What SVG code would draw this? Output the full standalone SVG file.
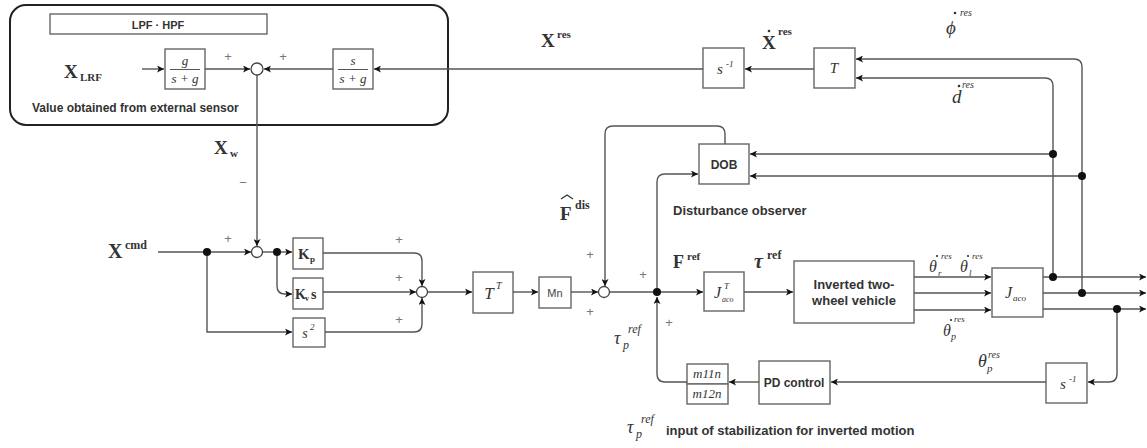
<svg xmlns="http://www.w3.org/2000/svg" width="1147" height="448" viewBox="0 0 1147 448">
<defs>
<marker id="ah" viewBox="0 0 10 10" refX="10" refY="5" markerWidth="7" markerHeight="7" orient="auto" markerUnits="userSpaceOnUse">
<path d="M0,0 L10,5 L0,10 L2.5,5 z" fill="#111"/>
</marker>
<style>
.blk{fill:#fff;stroke:#666;stroke-width:1.4}
.ln{fill:none;stroke:#555;stroke-width:1.4}
.arr{fill:none;stroke:#555;stroke-width:1.4;marker-end:url(#ah)}
.dot{fill:#111}
.sum{fill:#fff;stroke:#444;stroke-width:1.3}
.sans{font-family:"Liberation Sans",Arial,sans-serif;font-weight:bold;fill:#333}
.math{font-family:"Liberation Serif","Times New Roman",serif;font-style:italic;fill:#333}
.bm{font-family:"Liberation Serif","Times New Roman",serif;font-weight:bold;fill:#333}
.pm{font-family:"Liberation Sans",Arial,sans-serif;font-size:13px;fill:#777}
</style>
</defs>
<rect width="1147" height="448" fill="#fff"/>

<g id="sensor-group">
<rect x="10" y="5" width="438" height="120" rx="16" fill="none" stroke="#222" stroke-width="2"/>
<rect x="50" y="14" width="217" height="20" class="blk"/>
<text x="158" y="29" text-anchor="middle" class="sans" font-size="11">LPF · HPF</text>
<text x="32" y="112" class="sans" font-size="12">Value obtained from external sensor</text>
</g>

<g id="lpf">
<rect x="165" y="49" width="40" height="40" class="blk"/>
<text x="185" y="65" text-anchor="middle" class="math" font-size="13">g</text>
<line x1="170" y1="69.5" x2="200" y2="69.5" stroke="#555" stroke-width="1"/>
<text x="185" y="83" text-anchor="middle" class="math" font-size="13">s + g</text>
</g>
<g id="hpf">
<rect x="333" y="49" width="40" height="40" class="blk"/>
<text x="353" y="65" text-anchor="middle" class="math" font-size="13">s</text>
<line x1="338" y1="69.5" x2="368" y2="69.5" stroke="#555" stroke-width="1"/>
<text x="353" y="83" text-anchor="middle" class="math" font-size="13">s + g</text>
</g>
<g id="s-inv-top">
<rect x="703" y="48" width="41" height="40" class="blk"/>
<text x="720" y="74" text-anchor="middle" class="math" font-size="15" font-family="Liberation Sans">s</text>
<text x="726" y="67" class="math" font-size="9" font-family="Liberation Sans">-1</text>
</g>
<g id="T-block">
<rect x="814" y="48" width="41" height="40" class="blk"/>
<text x="834" y="73" text-anchor="middle" class="math" font-size="15">T</text>
</g>
<g id="DOB">
<rect x="699" y="144" width="50" height="40" class="blk"/>
<text x="724" y="169" text-anchor="middle" class="sans" font-size="12">DOB</text>
</g>
<g id="Kp">
<rect x="293" y="238" width="30" height="31" class="blk"/>
<text x="298" y="259" class="bm" font-size="15">K</text>
<text x="310" y="262" class="bm" font-size="9">p</text>
</g>
<g id="Kvs">
<rect x="293" y="278" width="30" height="31" class="blk"/>
<text x="295" y="299" class="bm" font-size="14">K</text>
<text x="305" y="301" class="bm" font-size="8">v</text>
<text x="311" y="299" class="bm" font-size="14">s</text>
</g>
<g id="s2">
<rect x="293" y="318" width="32" height="29" class="blk"/>
<text x="305" y="338" text-anchor="middle" class="math" font-size="14">s</text>
<text x="310" y="330" class="math" font-size="9" font-style="normal">2</text>
</g>
<g id="TT">
<rect x="473" y="272" width="40" height="41" class="blk"/>
<text x="489" y="299" text-anchor="middle" class="math" font-size="17">T</text>
<text x="496" y="289" class="math" font-size="10">T</text>
</g>
<g id="Mn">
<rect x="539" y="277" width="32" height="31" class="blk"/>
<text x="555" y="297" text-anchor="middle" font-family="Liberation Sans,sans-serif" font-size="11" fill="#444">Mn</text>
</g>
<g id="JacoT">
<rect x="704" y="272" width="40" height="39" class="blk"/>
<text x="714" y="298" class="math" font-size="16">J</text>
<text x="724" y="289" class="math" font-size="9">T</text>
<text x="722" y="302" class="math" font-size="8">aco</text>
</g>
<g id="vehicle">
<rect x="794" y="261" width="120" height="62" class="blk"/>
<text x="854" y="289" text-anchor="middle" class="sans" font-size="13">Inverted two-</text>
<text x="854" y="305" text-anchor="middle" class="sans" font-size="13">wheel vehicle</text>
</g>
<g id="Jaco">
<rect x="992" y="268" width="51" height="49" class="blk"/>
<text x="1005" y="298" class="math" font-size="16">J</text>
<text x="1013" y="301" class="math" font-size="9">aco</text>
</g>
<g id="s-inv-bottom">
<rect x="1046" y="363" width="41" height="40" class="blk"/>
<text x="1063" y="389" text-anchor="middle" class="math" font-size="15" font-family="Liberation Sans">s</text>
<text x="1069" y="382" class="math" font-size="9" font-family="Liberation Sans">-1</text>
</g>
<g id="PD">
<rect x="759" y="361" width="71" height="43" class="blk"/>
<text x="794" y="387" text-anchor="middle" class="sans" font-size="12">PD control</text>
</g>
<g id="m-block">
<rect x="687" y="364" width="41" height="20" class="blk"/>
<rect x="687" y="384" width="41" height="20" class="blk"/>
<text x="707" y="378" text-anchor="middle" class="math" font-size="13">m11n</text>
<text x="707" y="398" text-anchor="middle" class="math" font-size="13">m12n</text>
</g>

<g id="connectors">
<path class="arr" d="M142,69 H164"/>
<path class="arr" d="M205,69 H250"/>
<path class="arr" d="M333,69 H264"/>
<path class="arr" d="M703,69 H374"/>
<path class="arr" d="M814,69 H745"/>
<path class="arr" d="M1082,293 V67 Q1082,59 1074,59 H856"/>
<path class="arr" d="M1053,277 V86 Q1053,78 1045,78 H856"/>
<path class="arr" d="M1053,154 H750"/>
<path class="arr" d="M1082,176 H750"/>
<path class="arr" d="M725,144 V134 Q725,126 717,126 H613 Q605,126 605,134 V286"/>
<path class="arr" d="M657,292 V182 Q657,174 665,174 H698"/>
<path class="arr" d="M257,75 V246"/>
<path class="arr" d="M158,252 H251"/>
<path class="arr" d="M207,252 V332 H292"/>
<path class="arr" d="M262,252 H292"/>
<path class="arr" d="M277,252 V286 Q277,294 285,294 H292"/>
<path class="arr" d="M323,253 H414 Q422,253 422,261 V286"/>
<path class="arr" d="M323,292 H416"/>
<path class="arr" d="M325,332 H414 Q422,332 422,324 V298"/>
<path class="arr" d="M427,292 H472"/>
<path class="arr" d="M513,292 H538"/>
<path class="arr" d="M571,292 H598"/>
<path class="arr" d="M609,292 H703"/>
<path class="arr" d="M744,292 H793"/>
<path class="arr" d="M914,277 H991"/>
<path class="arr" d="M914,293 H991"/>
<path class="arr" d="M914,310 H991"/>
<path class="arr" d="M1043,277 H1146"/>
<path class="arr" d="M1043,293 H1146"/>
<path class="arr" d="M1043,309 H1146"/>
<path class="arr" d="M1117,309 V374 Q1117,382 1109,382 H1088"/>
<path class="arr" d="M1046,382 H831"/>
<path class="arr" d="M759,382 H729"/>
<path class="arr" d="M687,382 H665 Q657,382 657,374 V297"/>
<circle cx="257" cy="69" r="6" class="sum"/>
<circle cx="257" cy="252" r="5.5" class="sum"/>
<circle cx="422" cy="292" r="5.5" class="sum"/>
<circle cx="604" cy="292" r="5.5" class="sum"/>
<circle cx="207" cy="252" r="4" class="dot"/>
<circle cx="277" cy="252" r="4" class="dot"/>
<circle cx="657" cy="292" r="4" class="dot"/>
<circle cx="1053" cy="277" r="4" class="dot"/>
<circle cx="1082" cy="293" r="4" class="dot"/>
<circle cx="1117" cy="309" r="4" class="dot"/>
<circle cx="1053" cy="154" r="4" class="dot"/>
<circle cx="1082" cy="176" r="4" class="dot"/>
</g>

<g id="signs">
<text x="228" y="61" text-anchor="middle" class="pm">+</text>
<text x="283" y="61" text-anchor="middle" class="pm">+</text>
<text x="243" y="187" text-anchor="middle" class="pm">−</text>
<text x="228" y="243" text-anchor="middle" class="pm">+</text>
<text x="399" y="244" text-anchor="middle" class="pm">+</text>
<text x="399" y="282" text-anchor="middle" class="pm">+</text>
<text x="399" y="324" text-anchor="middle" class="pm">+</text>
<text x="590" y="259" text-anchor="middle" class="pm">+</text>
<text x="590" y="316" text-anchor="middle" class="pm">+</text>
<text x="643" y="279" text-anchor="middle" class="pm">+</text>
<text x="669" y="327" text-anchor="middle" class="pm">+</text>
</g>

<g id="labels">
<text x="64" y="78" class="bm" font-size="19">X</text><text x="80" y="81" class="bm" font-size="11">LRF</text>
<text x="214" y="154" class="bm" font-size="19">X</text><text x="230" y="157" class="bm" font-size="11">w</text>
<text x="108" y="258" class="bm" font-size="20">X</text><text x="125" y="249" class="bm" font-size="12">cmd</text>
<text x="541" y="47" class="bm" font-size="19">X</text><text x="557" y="38" class="bm" font-size="11">res</text>
<text x="762" y="49" class="bm" font-size="19">X</text><text x="778" y="35" class="bm" font-size="11">res</text>
<circle cx="769" cy="31" r="1.3" fill="#333"/>
<text x="946" y="34" class="math" font-size="19">ϕ</text><text x="960" y="16" class="math" font-size="10">res</text>
<circle cx="955" cy="13" r="1.3" fill="#333"/>
<text x="952" y="103" class="math" font-size="19">d</text><text x="962" y="88" class="math" font-size="10">res</text>
<circle cx="959" cy="86" r="1.3" fill="#333"/>
<text x="560" y="220" class="bm" font-size="19">F</text><text x="575" y="209" class="bm" font-size="12">dis</text>
<path d="M561,199 L567,195 L573,199" fill="none" stroke="#333" stroke-width="1.3"/>
<text x="673" y="268" class="bm" font-size="18">F</text><text x="687" y="260" class="bm" font-size="11">ref</text>
<text x="754" y="268" class="bm" font-size="20" font-style="italic">τ</text><text x="767" y="259" class="bm" font-size="12">ref</text>
<text x="929" y="272" class="math" font-size="16">θ</text><text x="938" y="276" class="math" font-size="9">r</text><text x="941" y="259" class="math" font-size="9">res</text>
<circle cx="937" cy="256" r="1.1" fill="#333"/>
<text x="960" y="272" class="math" font-size="16">θ</text><text x="969" y="276" class="math" font-size="9">l</text><text x="972" y="259" class="math" font-size="9">res</text>
<circle cx="968" cy="256" r="1.1" fill="#333"/>
<text x="943" y="336" class="math" font-size="16">θ</text><text x="951" y="340" class="math" font-size="10">p</text><text x="954" y="322" class="math" font-size="9">res</text>
<circle cx="951" cy="320" r="1.1" fill="#333"/>
<text x="978" y="367" class="math" font-size="18">θ</text><text x="987" y="372" class="math" font-size="11">p</text><text x="988" y="358" class="math" font-size="10">res</text>
<text x="614" y="344" class="math" font-size="18">τ</text><text x="623" y="349" class="math" font-size="12">p</text><text x="628" y="333" class="math" font-size="12">ref</text>
<text x="627" y="433" class="math" font-size="18">τ</text><text x="636" y="438" class="math" font-size="12">p</text><text x="641" y="423" class="math" font-size="12">ref</text>
<text x="666" y="435" class="sans" font-size="13">input of stabilization for inverted motion</text>
<text x="673" y="215" class="sans" font-size="13">Disturbance observer</text>
</g>
</svg>
